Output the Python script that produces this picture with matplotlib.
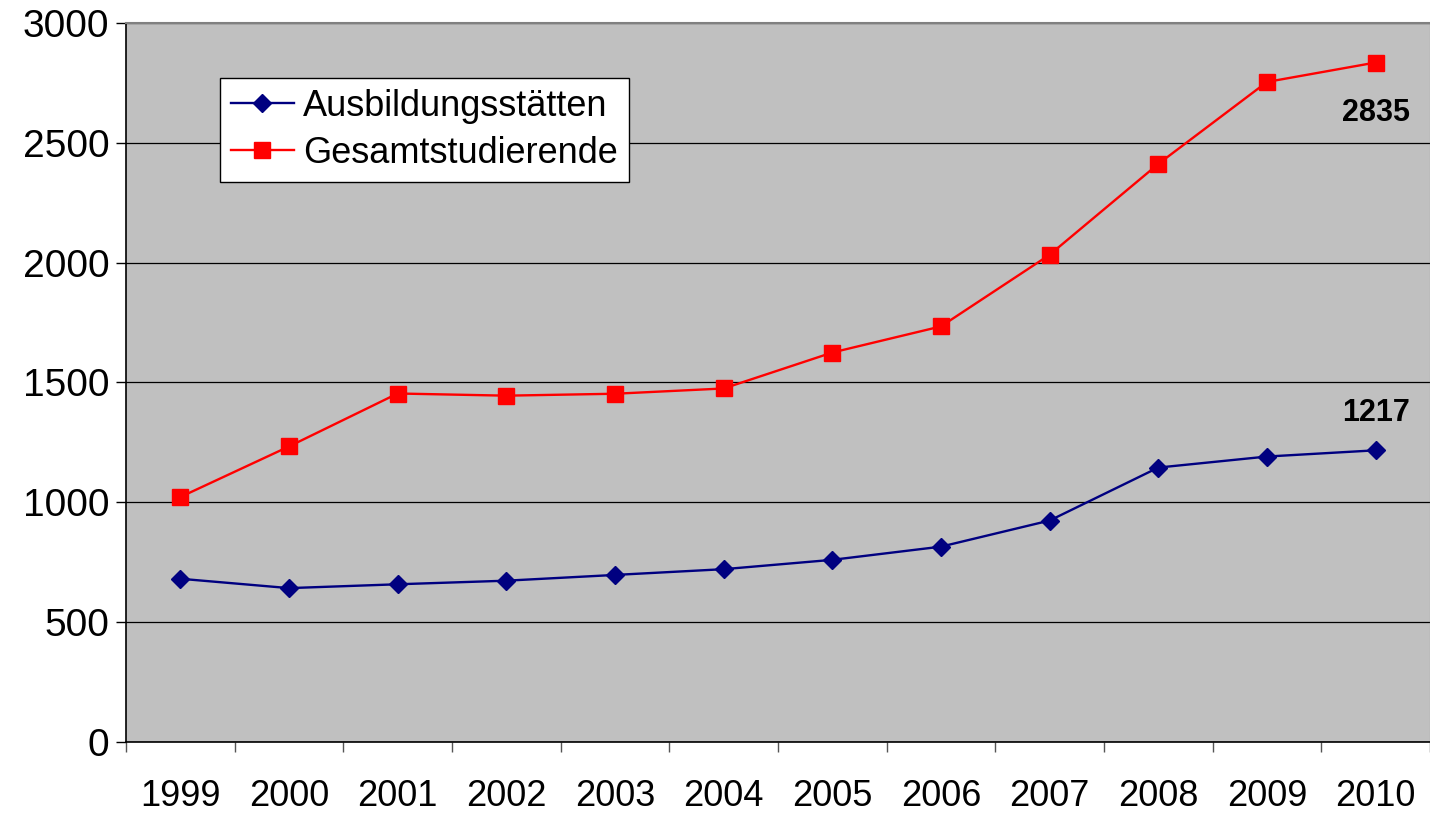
## plot.py
# Ausbildungsstätten und Gesamtstudierende 1999-2010

import matplotlib
matplotlib.use("Agg")
import matplotlib.pyplot as plt

# ===== Data =====
years = ["1999", "2000", "2001", "2002", "2003", "2004",
         "2005", "2006", "2007", "2008", "2009", "2010"]
ausbildung = [681, 642, 658, 673, 697, 721, 760, 815, 924, 1145, 1191, 1217]
studierende = [1022, 1233, 1454, 1445, 1453, 1475, 1625, 1734, 2033, 2412, 2754, 2835]
y_ticks = [0, 500, 1000, 1500, 2000, 2500, 3000]

plt.rcParams["font.family"] = ["Liberation Sans", "DejaVu Sans"]

# ===== Figure =====
fig = plt.figure(figsize=(14.3, 8.15), dpi=100)
ax = fig.add_axes([0.0881, 0.0896, 0.9119, 0.8822])
ax.set_facecolor("#C0C0C0")

x = list(range(len(years)))
ax.plot(x, ausbildung, color="#000080", lw=1.7, marker="D", ms=9,
        label="Ausbildungsstätten", zorder=3)
ax.plot(x, studierende, color="#FF0000", lw=1.7, marker="s", ms=11,
        label="Gesamtstudierende", zorder=3)

# value labels at the last point
ax.annotate(str(studierende[-1]), (x[-1], studierende[-1]), xytext=(0, -36),
            textcoords="offset points", ha="center", va="center",
            fontsize=22, fontweight="bold")
ax.annotate(str(ausbildung[-1]), (x[-1], ausbildung[-1]), xytext=(0, 27),
            textcoords="offset points", ha="center", va="center",
            fontsize=22, fontweight="bold")

# ===== Axes =====
ax.set_xlim(-0.5, len(years) - 0.5)
ax.set_ylim(0, 3000)
ax.set_yticks(y_ticks)
ax.set_yticklabels([str(v) for v in y_ticks], fontsize=28)
ax.tick_params(axis="y", direction="out", length=7, width=1, pad=5, color="black")

ax.set_xticks(x)
ax.set_xticklabels(years, fontsize=26)
ax.set_xticks([i - 0.5 for i in range(len(years) + 1)], minor=True)
ax.tick_params(axis="x", which="major", length=0, pad=27)
ax.tick_params(axis="x", which="minor", direction="out", length=7, width=1, color="#555555")

ax.yaxis.grid(True, color="black", lw=0.9)
ax.set_axisbelow(True)

ax.spines["left"].set_color("black")
ax.spines["bottom"].set_color("black")
ax.spines["left"].set_linewidth(1.2)
ax.spines["bottom"].set_linewidth(1.2)
ax.spines["top"].set_color("#808080")
ax.spines["right"].set_color("#808080")
ax.spines["top"].set_linewidth(1.5)

# ===== Legend =====
leg = ax.legend(loc="upper left", bbox_to_anchor=(0.072, 0.9235), fontsize=26,
                frameon=True, fancybox=False, borderaxespad=0, handlelength=1.75,
                borderpad=0.3, labelspacing=0.33, handletextpad=0.25)
leg.get_frame().set_edgecolor("black")
leg.get_frame().set_linewidth(1)
leg.get_frame().set_facecolor("white")
leg.get_frame().set_alpha(1)

fig.savefig("out.png", dpi=100)
